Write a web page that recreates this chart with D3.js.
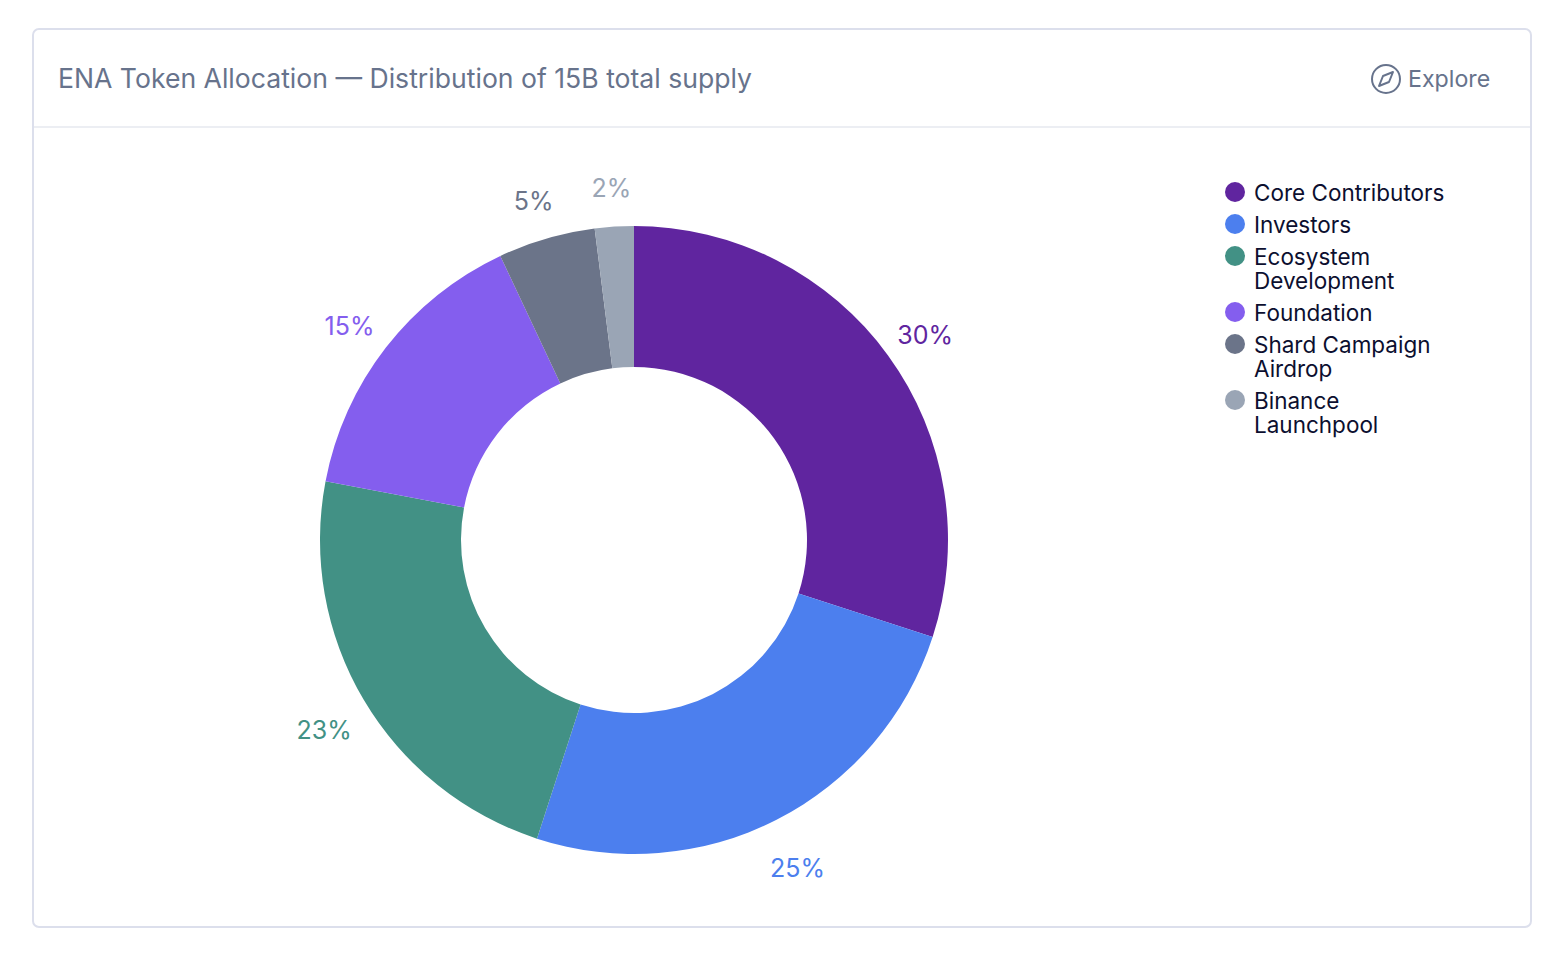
<!DOCTYPE html>
<html><head><meta charset="utf-8">
<script src="https://cdn.jsdelivr.net/npm/d3@7"></script>
<style>html,body{margin:0;padding:0;background:#fff}svg{display:block}</style>
</head><body><svg id="c" width="1554" height="966"></svg>
<script>
const title = "ENA Token Allocation — Distribution of 15B total supply";
const legendLines = [["Core Contributors"],["Investors"],["Ecosystem","Development"],["Foundation"],["Shard Campaign","Airdrop"],["Binance","Launchpool"]];
const values = [30,25,23,15,5,2];
const colors = ["#60259f","#4c7fee","#429185","#845eee","#6b7489","#9aa5b5"];
const font = "Inter, 'Noto Sans', sans-serif";
const svg = d3.select("#c").attr("font-family",font);
svg.append("rect").attr("x",33).attr("y",29).attr("width",1498).attr("height",898).attr("rx",6)
  .attr("fill","#fff").attr("stroke","#dcdfec").attr("stroke-width",2);
svg.append("line").attr("x1",34).attr("x2",1530).attr("y1",127).attr("y2",127).attr("stroke","#eceef3").attr("stroke-width",2);
svg.append("text").attr("x",58).attr("y",88).attr("font-size",26.6).attr("fill","#67738c").text(title);
const ex = svg.append("g").attr("transform","translate(1386,79)");
ex.append("circle").attr("r",14).attr("fill","none").attr("stroke","#67738c").attr("stroke-width",2);
ex.append("path").attr("d",d3.line()([[-7,7],[-3,-3],[7,-7],[3,3]])+"Z").attr("fill","none").attr("stroke","#67738c").attr("stroke-width",2).attr("stroke-linejoin","round");
svg.append("text").attr("x",1408).attr("y",87).attr("font-size",23.2).attr("fill","#67738c").text("Explore");
const pie = d3.pie().sort(null)(values);
const g = svg.append("g").attr("transform","translate(634,540)");
const arc = d3.arc().innerRadius(173).outerRadius(314);
const lab = d3.arc().innerRadius(360).outerRadius(360);
g.selectAll("path").data(pie).join("path").attr("d",arc).attr("fill",(d,i)=>colors[i]);
g.selectAll("text").data(pie).join("text")
  .attr("transform",d=>`translate(${lab.centroid(d)})`)
  .attr("text-anchor","middle").attr("dy",16).attr("font-size",25)
  .attr("fill",(d,i)=>colors[i]).text(d=>d.value+"%");
let y = 192;
const lg = svg.append("g");
legendLines.forEach((ls,i)=>{
  lg.append("circle").attr("cx",1235).attr("cy",y).attr("r",10).attr("fill",colors[i]);
  ls.forEach((s,j)=>lg.append("text").attr("x",1254).attr("y",y+9+j*24).attr("font-size",22.5).attr("fill","#0c0f2f").text(s));
  y += 32 + (ls.length-1)*24;
});
</script></body></html>
